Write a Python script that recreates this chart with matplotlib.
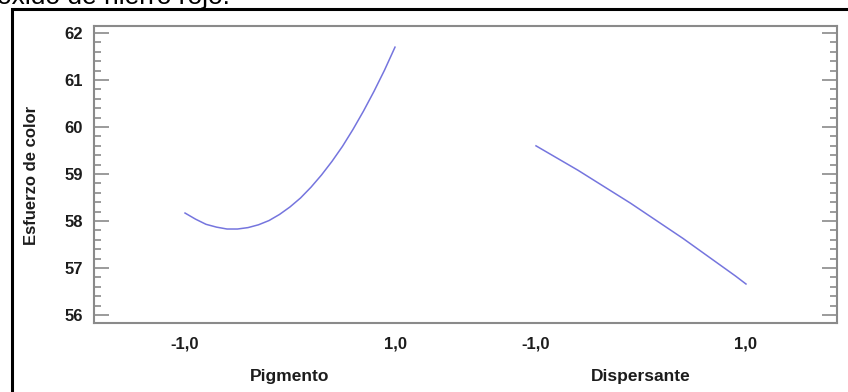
"""Main effects plot for Esfuerzo de color (Pigmento, Dispersante)."""

import matplotlib.pyplot as plt
from matplotlib.patches import Rectangle
from matplotlib.ticker import MultipleLocator

# factor levels (coded) and predicted response
levels = [-1.0, -0.9, -0.8, -0.7, -0.6, -0.5, -0.4, -0.3, -0.2, -0.1, 0.0,
          0.1, 0.2, 0.3, 0.4, 0.5, 0.6, 0.7, 0.8, 0.9, 1.0]
pigmento = [58.17, 58.04, 57.93, 57.87, 57.83, 57.83, 57.86, 57.92, 58.01, 58.14, 58.30,
            58.49, 58.72, 58.98, 59.27, 59.59, 59.95, 60.34, 60.76, 61.21, 61.70]
dispersante = [59.60, 59.47, 59.34, 59.21, 59.08, 58.94, 58.80, 58.66, 58.52, 58.38, 58.23,
               58.08, 57.93, 57.78, 57.63, 57.47, 57.31, 57.15, 56.99, 56.83, 56.66]
factor_names = ["Pigmento", "Dispersante"]
tick_text = ["-1,0", "1,0"]
y_label = "Esfuerzo de color"
caption = "óxido de hierro rojo."

plt.rcParams["font.family"] = ["Liberation Sans", "DejaVu Sans"]

W, H = 848, 392
fig = plt.figure(figsize=(W / 100, H / 100), dpi=100)
ax = fig.add_axes([94 / W, 1 - 323 / H, (837 - 94) / W, (323 - 26) / H])

line_color = "#7575de"
text_color = "#1c1c1c"
spine_color = "#8a8a8a"

# horizontal offset of each factor panel on the shared axis
offsets = [1.0, 4.343]
series = [pigmento, dispersante]

for off, vals in zip(offsets, series):
    ax.plot([lv + off for lv in levels], vals, color=line_color, lw=1.1)

ax.set_xlim(-0.867, 6.21)
ax.set_ylim(55.83, 62.15)

# x tick labels at the ends of each factor range
xt, xl = [], []
for off in offsets:
    xt += [levels[0] + off, levels[-1] + off]
    xl += tick_text
ax.set_xticks(xt)
ax.set_xticklabels(xl, fontsize=12, fontweight="bold", color=text_color)
ax.tick_params(axis="x", length=0, pad=10)

for off, name in zip(offsets, factor_names):
    ax.text(off, -0.18, name, transform=ax.get_xaxis_transform(), ha="center", va="center",
            fontsize=12.5, fontweight="bold", color=text_color)

ax.yaxis.set_major_locator(MultipleLocator(1))
ax.yaxis.set_minor_locator(MultipleLocator(0.2))
ax.tick_params(axis="y", which="both", direction="in", left=True, right=True,
               color=spine_color, width=1.2, labelsize=12, labelcolor=text_color, pad=8)
ax.tick_params(axis="y", which="major", length=11)
ax.tick_params(axis="y", which="minor", length=5)
for lab in ax.get_yticklabels():
    lab.set_fontweight("bold")

fig.text(32 / W, 1 - 175 / H, y_label, rotation=90, ha="center", va="center",
         fontsize=12, fontweight="bold", color=text_color)

for sp in ax.spines.values():
    sp.set_color(spine_color)
    sp.set_linewidth(1.5)

# outer frame and cut-off caption from the source page
fig.patches.append(Rectangle((12 / W, -0.2), 1.2, 1.2 - 9 / H, transform=fig.transFigure,
                             fill=False, edgecolor="black", lw=2.2))
fig.text(-3 / W, 1 - 4 / H, caption, ha="left", va="baseline", fontsize=19, color="black")

fig.savefig("out.png", dpi=100)
